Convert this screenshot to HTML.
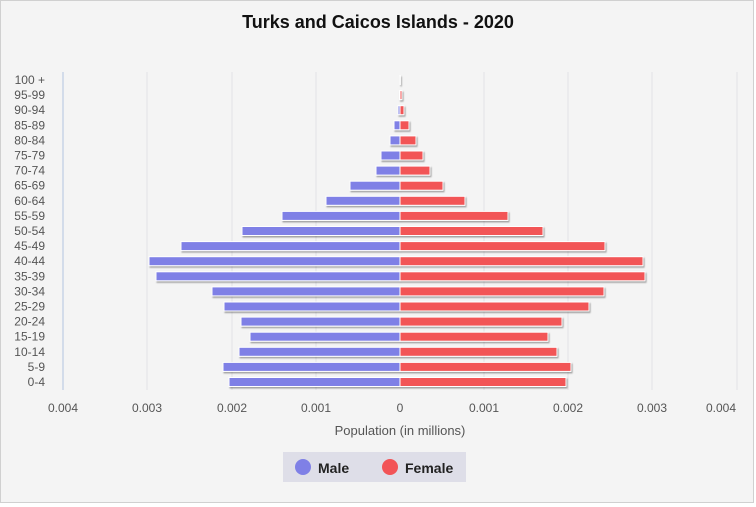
<!DOCTYPE html>
<html><head><meta charset="utf-8"><style>
body{margin:0;background:#fff}
svg{display:block;font-family:"Liberation Sans",sans-serif}
</style></head><body>
<svg width="756" height="507" viewBox="0 0 756 507">
<defs><filter id="s" x="-5%" y="-50%" width="110%" height="200%"><feDropShadow dx="1" dy="1.5" stdDeviation="0.8" flood-color="#000" flood-opacity="0.35"/></filter></defs>
<rect x="0.5" y="0.5" width="753" height="502" fill="#f4f4f4" stroke="#d0d0d0"/>
<text x="378" y="28" text-anchor="middle" font-size="18" font-weight="bold" fill="#111">Turks and Caicos Islands - 2020</text>
<g stroke="#e2e2e6" stroke-width="1">
<line x1="147" y1="72" x2="147" y2="390"/><line x1="232" y1="72" x2="232" y2="390"/><line x1="316" y1="72" x2="316" y2="390"/>
<line x1="484" y1="72" x2="484" y2="390"/><line x1="568" y1="72" x2="568" y2="390"/><line x1="652" y1="72" x2="652" y2="390"/><line x1="737" y1="72" x2="737" y2="390"/>
</g>
<line x1="63" y1="72" x2="63" y2="390" stroke="#c8d4e6" stroke-width="1.5"/>
<g font-size="12" fill="#555" text-anchor="middle">
<text x="63" y="412">0.004</text><text x="147" y="412">0.003</text><text x="232" y="412">0.002</text><text x="316" y="412">0.001</text><text x="400" y="412">0</text>
<text x="484" y="412">0.001</text><text x="568" y="412">0.002</text><text x="652" y="412">0.003</text><text x="721" y="412">0.004</text>
<text x="400" y="435" font-size="13">Population (in millions)</text>
</g>
<g id="bars" filter="url(#s)" stroke="#fff" stroke-width="1"></g>
<g id="labs" font-size="12" fill="#555" text-anchor="end"></g>
<rect x="283" y="452" width="183" height="30" fill="#dedee8"/>
<circle cx="303" cy="467" r="8" fill="#7f80e6"/>
<text x="318" y="473" font-size="14" font-weight="bold" fill="#222">Male</text>
<circle cx="390" cy="467" r="8" fill="#f25457"/>
<text x="405" y="473" font-size="14" font-weight="bold" fill="#222">Female</text>
</svg>
<script>
var L=["0-4","5-9","10-14","15-19","20-24","25-29","30-34","35-39","40-44","45-49","50-54","55-59","60-64","65-69","70-74","75-79","80-84","85-89","90-94","95-99","100 +"];
var M=[229,223,239,250,241,224,212,156,149,181,242,282,326,350,376,381,390,394,398,399.5,400];
var F=[566,571,557,548,562,589,604,645,643,605,543,508,465,443,430,423,416,409,404,402,400.3];
var ns="http://www.w3.org/2000/svg",b=document.getElementById("bars"),l=document.getElementById("labs");
for(var i=0;i<21;i++){var y=382-i*15.1;
var t=document.createElementNS(ns,"text");t.setAttribute("x",45);t.setAttribute("y",y+4);t.textContent=L[i];l.appendChild(t);
if(M[i]<400){var r=document.createElementNS(ns,"rect");r.setAttribute("x",M[i]);r.setAttribute("y",y-4.5);r.setAttribute("width",400-M[i]);r.setAttribute("height",9);r.setAttribute("fill","#7f80e6");b.appendChild(r);}
var r2=document.createElementNS(ns,"rect");r2.setAttribute("x",400);r2.setAttribute("y",y-4.5);r2.setAttribute("width",F[i]-400);r2.setAttribute("height",9);r2.setAttribute("fill","#f25457");b.appendChild(r2);}
</script>
</body></html>
